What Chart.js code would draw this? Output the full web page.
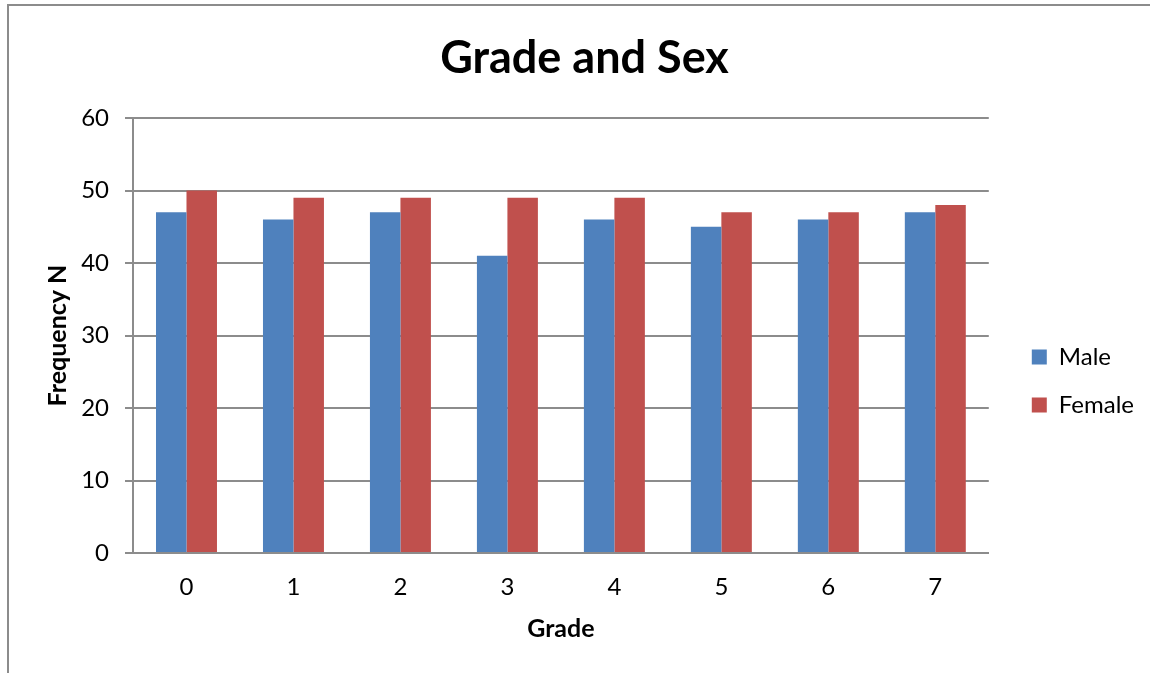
<!DOCTYPE html>
<html>
<head>
<meta charset="utf-8">
<script src="https://cdn.jsdelivr.net/npm/chart.js@4/dist/chart.umd.min.js"></script>
<style>
  html, body { margin: 0; padding: 0; background: #fff; }
  #wrap { position: relative; width: 1150px; height: 673px; }
  #frame { position: absolute; left: 7px; top: 4px; right: 0; bottom: 0; border-top: 2px solid #8c8c8c; border-left: 2px solid #8c8c8c; }
  canvas { position: absolute; left: 0; top: 0; }
</style>
</head>
<body>
<div id="wrap">
  <div id="frame"></div>
  <canvas id="gradeChart" width="1150" height="673"></canvas>
</div>
<script>
const grades = ['0', '1', '2', '3', '4', '5', '6', '7'];
const maleCounts = [47, 46, 47, 41, 46, 45, 46, 47];
const femaleCounts = [50, 49, 49, 49, 49, 47, 47, 48];
const yTicks = [0, 10, 20, 30, 40, 50, 60];

const font = 'Lato, "Open Sans", sans-serif';
const gridGray = '#8c8c8c';

const ctx = document.getElementById('gradeChart').getContext('2d');
const chart = new Chart(ctx, {
    type: 'bar',
    data: {
        labels: grades,
        datasets: [{
            label: 'Male',
            data: maleCounts,
            backgroundColor: '#4F81BD',
            borderWidth: 0
        }, {
            label: 'Female',
            data: femaleCounts,
            backgroundColor: '#C0504D',
            borderWidth: 0
        }]
    },
    options: {
        responsive: false,
        animation: false,
        devicePixelRatio: 1,
        categoryPercentage: 0.57,
        barPercentage: 1.0,
        layout: { padding: { left: 25, right: 6, top: 25, bottom: 12 } },
        plugins: {
            title: {
                display: true,
                text: 'Grade and Sex',
                color: '#000',
                font: { family: font, size: 45, weight: 'bold' },
                padding: { top: 6, bottom: 33 }
            },
            legend: {
                position: 'right',
                title: { display: true, text: ' ', font: { size: 10 }, padding: 32 },
                labels: {
                    color: '#000',
                    font: { family: font, size: 24 },
                    boxWidth: 15,
                    boxHeight: 15,
                    padding: 24
                }
            },
            tooltip: { enabled: false }
        },
        scales: {
            x: {
                afterFit: axis => { axis.height = 108; },
                grid: { display: false, drawTicks: false },
                border: { display: true, color: gridGray, width: 2 },
                ticks: { color: '#000', font: { family: font, size: 24 }, padding: 20 },
                title: {
                    display: true,
                    text: 'Grade',
                    color: '#000',
                    font: { family: font, size: 25, weight: 'bold' },
                    padding: { top: 10, bottom: 17 }
                }
            },
            y: {
                min: 0,
                max: 60,
                afterFit: axis => { axis.width = 108; },
                afterBuildTicks: axis => { axis.ticks = yTicks.map(v => ({ value: v })); },
                grid: { color: gridGray, lineWidth: 2, tickLength: 8 },
                border: { display: true, color: gridGray, width: 2 },
                ticks: { color: '#000', font: { family: font, size: 24 }, padding: 16 },
                title: {
                    display: true,
                    text: 'Frequency N',
                    color: '#000',
                    font: { family: font, size: 25, weight: 'bold' },
                    padding: { top: 18, bottom: 0 }
                }
            },
            gap: {
                position: 'right',
                display: true,
                grid: { display: false },
                border: { display: false },
                ticks: { display: false },
                afterFit: axis => { axis.width = 19; }
            }
        }
    }
});
</script>
</body>
</html>
